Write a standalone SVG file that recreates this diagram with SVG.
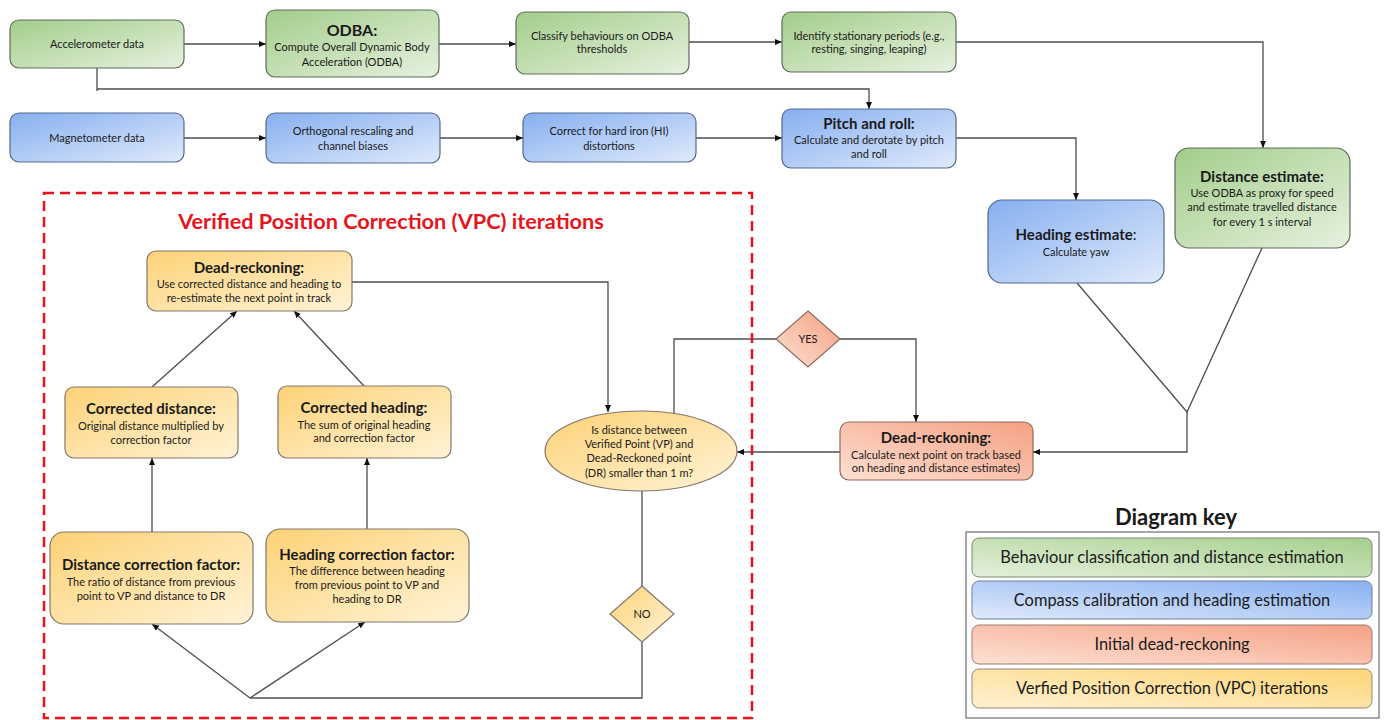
<svg xmlns="http://www.w3.org/2000/svg" width="1384" height="720" viewBox="0 0 1384 720">
<defs>
<linearGradient id="gGreen" x1="0" y1="0" x2="1" y2="1"><stop offset="0" stop-color="#a3cd8a"/><stop offset="1" stop-color="#e6f1df"/></linearGradient>
<linearGradient id="gBlue" x1="0" y1="0" x2="1" y2="1"><stop offset="0" stop-color="#86aff0"/><stop offset="1" stop-color="#e0eafb"/></linearGradient>
<linearGradient id="gSalmon" x1="0" y1="1" x2="1" y2="0"><stop offset="0" stop-color="#fde0d2"/><stop offset="1" stop-color="#f5a183"/></linearGradient>
<linearGradient id="gYellow" x1="0" y1="0" x2="1" y2="1"><stop offset="0" stop-color="#fdd277"/><stop offset="1" stop-color="#fff3d6"/></linearGradient>
<linearGradient id="kGreen" x1="0" y1="1" x2="1" y2="0"><stop offset="0" stop-color="#e4f0dc"/><stop offset="1" stop-color="#a6cf8c"/></linearGradient>
<linearGradient id="kBlue" x1="0" y1="1" x2="1" y2="0"><stop offset="0" stop-color="#e0eafb"/><stop offset="1" stop-color="#88b0f1"/></linearGradient>
<linearGradient id="kRed" x1="0" y1="1" x2="1" y2="0"><stop offset="0" stop-color="#fde1d4"/><stop offset="1" stop-color="#f5a185"/></linearGradient>
<linearGradient id="kYellow" x1="0" y1="1" x2="1" y2="0"><stop offset="0" stop-color="#fff1d2"/><stop offset="1" stop-color="#fdd577"/></linearGradient>
<marker id="arr" markerWidth="8" markerHeight="8" refX="7" refY="3" orient="auto" markerUnits="userSpaceOnUse"><path d="M0,0 L7,3 L0,6 z" fill="#111"/></marker>
</defs>
<style>
text{font-family:Lato,"Liberation Sans",sans-serif;fill:#1a1a1a;text-anchor:middle}
.b{font-size:11px}
.t{font-size:15px;font-weight:bold}
.g{fill:url(#gGreen);stroke:#5d6d5a;stroke-width:1.2}
.bl{fill:url(#gBlue);stroke:#51698f;stroke-width:1.2}
.s{fill:url(#gSalmon);stroke:#8f6a5e;stroke-width:1.2}
.y{fill:url(#gYellow);stroke:#85776a;stroke-width:1.2}
.c{fill:none;stroke:#4d4d4d;stroke-width:1.3}
.k{font-size:16.4px}
</style>
<rect width="1384" height="720" fill="#ffffff"/>

<g id="connectors">
<path class="c" d="M184,44 H266" marker-end="url(#arr)"/>
<path class="c" d="M439,44 H516" marker-end="url(#arr)"/>
<path class="c" d="M689,42 H782" marker-end="url(#arr)"/>
<path class="c" d="M956,42 H1263 V148" marker-end="url(#arr)"/>
<path class="c" d="M97,68 V91 M97,89 H869 V109" marker-end="url(#arr)"/>
<path class="c" d="M184,138 H266" marker-end="url(#arr)"/>
<path class="c" d="M440,138 H523" marker-end="url(#arr)"/>
<path class="c" d="M696,138 H782" marker-end="url(#arr)"/>
<path class="c" d="M956,138 H1076 V200" marker-end="url(#arr)"/>
<path class="c" d="M1077,283 L1187,412 L1262,248"/>
<path class="c" d="M1187,412 V452 H1033" marker-end="url(#arr)"/>
<path class="c" d="M840,452 H737" marker-end="url(#arr)"/>
<path class="c" d="M674,414 V339 H776"/>
<path class="c" d="M840,339 H916 V422" marker-end="url(#arr)"/>
<path class="c" d="M352,282 H608 V412" marker-end="url(#arr)"/>
<path class="c" d="M152,387 L237,311" marker-end="url(#arr)"/>
<path class="c" d="M364,386 L294,311" marker-end="url(#arr)"/>
<path class="c" d="M152,532 V458" marker-end="url(#arr)"/>
<path class="c" d="M367,529 V458" marker-end="url(#arr)"/>
<path class="c" d="M642,490 V586 M642,642 V698 H250"/>
<path class="c" d="M250,698 L152,624" marker-end="url(#arr)"/>
<path class="c" d="M250,698 L365,622" marker-end="url(#arr)"/>
</g>

<rect x="44" y="193" width="708" height="525" fill="none" stroke="#e8131b" stroke-width="2.5" stroke-dasharray="10,6"/>
<text x="391" y="229" style="font-size:21.7px;font-weight:bold;fill:#e8131b">Verified Position Correction (VPC) iterations</text>

<g id="accelerometer">
<rect class="g" x="10" y="20" width="174" height="48" rx="9"/>
<text class="b" x="97" y="48">Accelerometer data</text>
</g>
<g id="odba">
<rect class="g" x="266" y="10" width="173" height="67" rx="9"/>
<text class="t" x="352" y="36" style="font-size:16px">ODBA:</text>
<text class="b" x="352" y="51">Compute Overall Dynamic Body</text>
<text class="b" x="352" y="66">Acceleration (ODBA)</text>
</g>
<g id="classify">
<rect class="g" x="516" y="12" width="173" height="62" rx="9"/>
<text class="b" x="602" y="40">Classify behaviours on ODBA</text>
<text class="b" x="602" y="53">thresholds</text>
</g>
<g id="identify">
<rect class="g" x="782" y="12" width="174" height="60" rx="9"/>
<text class="b" x="869" y="40">Identify stationary periods (e.g.,</text>
<text class="b" x="869" y="53">resting, singing, leaping)</text>
</g>
<g id="magnetometer">
<rect class="bl" x="10" y="113" width="174" height="49" rx="9"/>
<text class="b" x="97" y="142">Magnetometer data</text>
</g>
<g id="orthogonal">
<rect class="bl" x="266" y="113" width="174" height="50" rx="9"/>
<text class="b" x="353" y="135">Orthogonal rescaling and</text>
<text class="b" x="353" y="150">channel biases</text>
</g>
<g id="hardiron">
<rect class="bl" x="523" y="113" width="173" height="49" rx="9"/>
<text class="b" x="609" y="135">Correct for hard iron (HI)</text>
<text class="b" x="609" y="150">distortions</text>
</g>
<g id="pitchroll">
<rect class="bl" x="782" y="109" width="174" height="59" rx="9"/>
<text class="t" x="869" y="129">Pitch and roll:</text>
<text class="b" x="869" y="144">Calculate and derotate by pitch</text>
<text class="b" x="869" y="158">and roll</text>
</g>
<g id="heading">
<rect class="bl" x="988" y="200" width="176" height="83" rx="14"/>
<text class="t" x="1076" y="240">Heading estimate<tspan style="font-weight:normal">:</tspan></text>
<text class="b" x="1076" y="256">Calculate yaw</text>
</g>
<g id="distance">
<rect class="g" x="1175" y="148" width="175" height="100" rx="14"/>
<text class="t" x="1262" y="182">Distance estimate:</text>
<text class="b" x="1262" y="197">Use ODBA as proxy for speed</text>
<text class="b" x="1262" y="211">and estimate travelled distance</text>
<text class="b" x="1262" y="226">for every 1 s interval</text>
</g>
<g id="deadreckoning-initial">
<rect class="s" x="840" y="422" width="193" height="58" rx="9"/>
<text class="t" x="936" y="443">Dead-reckoning:</text>
<text class="b" x="936" y="459">Calculate next point on track based</text>
<text class="b" x="936" y="472">on heading and distance estimates)</text>
</g>
<g id="yes">
<polygon class="s" points="808,311 840,339 808,367 776,339"/>
<text class="b" x="808" y="343">YES</text>
</g>
<g id="question">
<ellipse class="y" cx="641" cy="451" rx="96" ry="40"/>
<text class="b" x="639" y="434">Is distance between</text>
<text class="b" x="639" y="448">Verified Point (VP) and</text>
<text class="b" x="639" y="462">Dead-Reckoned point</text>
<text class="b" x="639" y="477">(DR) smaller than 1 m?</text>
</g>
<g id="no">
<polygon class="y" points="642,586 674,614 642,642 610,614"/>
<text class="b" x="642" y="618">NO</text>
</g>
<g id="deadreckoning-vpc">
<rect class="y" x="147" y="251" width="205" height="60" rx="9"/>
<text class="t" x="249" y="273">Dead-reckoning:</text>
<text class="b" x="249" y="288">Use corrected distance and heading to</text>
<text class="b" x="249" y="302">re-estimate the next point in track</text>
</g>
<g id="corrected-distance">
<rect class="y" x="65" y="387" width="173" height="71" rx="9"/>
<text class="t" x="151" y="414">Corrected distance:</text>
<text class="b" x="151" y="430">Original distance multiplied by</text>
<text class="b" x="151" y="444">correction factor</text>
</g>
<g id="corrected-heading">
<rect class="y" x="278" y="386" width="173" height="72" rx="9"/>
<text class="t" x="364" y="413">Corrected heading:</text>
<text class="b" x="364" y="429">The sum of original heading</text>
<text class="b" x="364" y="442">and correction factor</text>
</g>
<g id="distance-correction">
<rect class="y" x="50" y="532" width="203" height="92" rx="14"/>
<text class="t" x="151" y="570">Distance correction factor:</text>
<text class="b" x="151" y="586">The ratio of distance from previous</text>
<text class="b" x="151" y="600">point to VP and distance to DR</text>
</g>
<g id="heading-correction">
<rect class="y" x="266" y="529" width="203" height="93" rx="14"/>
<text class="t" x="367" y="560">Heading correction factor:</text>
<text class="b" x="367" y="575">The difference between heading</text>
<text class="b" x="367" y="589">from previous point to VP and</text>
<text class="b" x="367" y="603">heading to DR</text>
</g>

<g id="key">
<text x="1176" y="525" style="font-size:22px;font-weight:bold">Diagram key</text>
<rect x="966" y="532" width="413" height="186" fill="#ffffff" stroke="#6d6d6d" stroke-width="1.2"/>
<rect x="972" y="538" width="400" height="39" rx="7" fill="url(#kGreen)" stroke="#7a8a76"/>
<text class="k" x="1172" y="563">Behaviour classification and distance estimation</text>
<rect x="972" y="581" width="400" height="38" rx="7" fill="url(#kBlue)" stroke="#6d7f9c"/>
<text class="k" x="1172" y="606">Compass calibration and heading estimation</text>
<rect x="972" y="625" width="400" height="39" rx="7" fill="url(#kRed)" stroke="#9a7c72"/>
<text class="k" x="1172" y="650">Initial dead-reckoning</text>
<rect x="972" y="669" width="400" height="39" rx="7" fill="url(#kYellow)" stroke="#958877"/>
<text class="k" x="1172" y="694">Verfied Position Correction (VPC) iterations</text>
</g>
</svg>
